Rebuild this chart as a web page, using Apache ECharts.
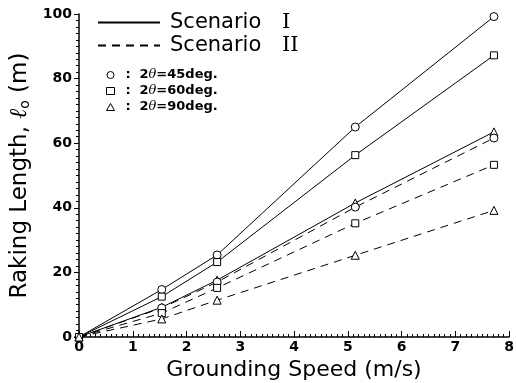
<!DOCTYPE html>
<html>
<head>
<meta charset="utf-8">
<script src="https://cdn.jsdelivr.net/npm/echarts@6/dist/echarts.min.js"></script>
<style>
  html, body { margin: 0; padding: 0; background: #fff; }
  #chart { width: 516px; height: 383px; }
</style>
</head>
<body>
<div id="chart"></div>
<script>
// grounding speed (m/s)
const speeds = [0, 1.54, 2.57, 5.14, 7.72];

// raking length (m), Scenario I
const s1_45 = [0, 14.7, 25.4, 65, 99.2];
const s1_60 = [0, 12.5, 23.2, 56.3, 87.2];
const s1_90 = [0, 9.2, 17.6, 41.5, 63.5];

// raking length (m), Scenario II
const s2_45 = [0, 9, 17, 40.2, 61.6];
const s2_60 = [0, 7.4, 15.2, 35.2, 53.3];
const s2_90 = [0, 5.6, 11.4, 25.3, 39.2];

const angles = ['45', '60', '90'];
const scenarioLabels = ['Scenario I', 'Scenario II'];
const angleLabels = angles.map(a => '2θ=' + a + 'deg.');

const font = 'DejaVu Sans';
const pts = vals => vals.map((v, i) => [speeds[i], v]);

const chart = echarts.init(document.getElementById('chart'));

function dataSeries(vals, symbol, size, dashed) {
  return {
    type: 'line',
    data: pts(vals),
    symbol: symbol,
    symbolSize: size,
    showAllSymbol: true,
    lineStyle: { color: '#000', width: 1, type: dashed ? [8, 6] : 'solid' },
    itemStyle: { color: '#fff', borderColor: '#000', borderWidth: 1 },
    silent: true,
  };
}

function legendSeries(name, symbol, dashed) {
  return {
    name: name,
    type: 'line',
    data: [],
    symbol: symbol,
    symbolSize: 7,
    lineStyle: { color: '#000', width: 1, type: dashed ? [8, 6] : 'solid' },
    itemStyle: { color: '#fff', borderColor: '#000', borderWidth: 1 },
  };
}

const option = {
  animation: false,
  grid: { left: 79, right: 7, top: 14, bottom: 46, outerBoundsMode: 'none' },
  legend: [
    {
      data: scenarioLabels,
      orient: 'vertical',
      left: 92,
      top: 7,
      itemWidth: 62,
      itemHeight: 14,
      itemGap: 2,
      selectedMode: false,
      itemStyle: { opacity: 0 },
      formatter: name => '{a|Scenario}{r|' + name.split(' ')[1] + '}',
      textStyle: {
        color: '#000',
        lineHeight: 18,
        padding: [0, 0, 0, 5],
        rich: {
          a: { fontFamily: font, fontSize: 21, color: '#000', width: 112, lineHeight: 18 },
          r: { fontFamily: 'DejaVu Serif', fontSize: 21, color: '#000', lineHeight: 18 },
        },
      },
    },
    {
      data: [
        { name: angleLabels[0], icon: 'circle' },
        { name: angleLabels[1], icon: 'rect' },
        { name: angleLabels[2], icon: 'triangle' },
      ],
      orient: 'vertical',
      left: 101,
      top: 63,
      itemWidth: 8,
      itemHeight: 7,
      itemGap: 2,
      selectedMode: false,
      itemStyle: { color: '#fff', borderColor: '#000', borderWidth: 1 },
      formatter: name => '{c|:}{b|2}{t|θ}{b|' + name.slice(2) + '}',
      textStyle: {
        color: '#000',
        lineHeight: 14,
        padding: [0, 0, 0, 0],
        rich: {
          c: { fontFamily: font, fontSize: 13, fontWeight: 'bold', color: '#000', width: 14, padding: [0, 0, 0, 6], lineHeight: 14 },
          b: { fontFamily: font, fontSize: 13, fontWeight: 'bold', color: '#000', lineHeight: 14 },
          t: { fontFamily: 'DejaVu Serif', fontStyle: 'italic', fontSize: 13, color: '#000', lineHeight: 14 },
        },
      },
    },
  ],
  xAxis: {
    type: 'value',
    min: 0,
    max: 8,
    interval: 1,
    name: 'Grounding Speed (m/s)',
    nameLocation: 'middle',
    nameGap: 21,
    nameTextStyle: { fontFamily: font, fontSize: 22, color: '#000' },
    axisLine: { lineStyle: { color: '#000', width: 1.5 } },
    axisTick: { inside: true, length: 6, lineStyle: { color: '#000' } },
    minorTick: { show: true, splitNumber: 10, length: 3, lineStyle: { color: '#000' } },
    axisLabel: { fontFamily: font, fontSize: 14, fontWeight: 'bold', color: '#000', margin: 3 },
    splitLine: { show: false },
  },
  yAxis: {
    type: 'value',
    min: 0,
    max: 100,
    interval: 20,
    name: '{n|Raking Length, }{l|ℓ}{s|o}{n| (m)}',
    nameLocation: 'middle',
    nameGap: 33,
    nameTextStyle: {
      fontFamily: font,
      color: '#000',
      rich: {
        n: { fontFamily: font, fontSize: 23, color: '#000' },
        l: { fontFamily: 'DejaVu Serif', fontStyle: 'italic', fontSize: 24, color: '#000' },
        s: { fontFamily: font, fontSize: 14, color: '#000', verticalAlign: 'bottom', padding: [10, 0, 0, 0] },
      },
    },
    axisLine: { show: true, lineStyle: { color: '#000', width: 1.5 } },
    axisTick: { show: true, inside: false, length: 5, lineStyle: { color: '#000' } },
    minorTick: { show: true, splitNumber: 10, length: 3, lineStyle: { color: '#000' } },
    axisLabel: { fontFamily: font, fontSize: 14, fontWeight: 'bold', color: '#000', margin: 7 },
    splitLine: { show: false },
  },
  series: [
    dataSeries(s1_45, 'circle', 8, false),
    dataSeries(s1_60, 'rect', 7, false),
    dataSeries(s1_90, 'triangle', 8, false),
    dataSeries(s2_45, 'circle', 8, true),
    dataSeries(s2_60, 'rect', 7, true),
    dataSeries(s2_90, 'triangle', 8, true),
    legendSeries(scenarioLabels[0], 'circle', false),
    legendSeries(scenarioLabels[1], 'circle', true),
    legendSeries(angleLabels[0], 'circle', false),
    legendSeries(angleLabels[1], 'rect', false),
    legendSeries(angleLabels[2], 'triangle', false),
  ],
};

chart.setOption(option);
</script>
</body>
</html>
